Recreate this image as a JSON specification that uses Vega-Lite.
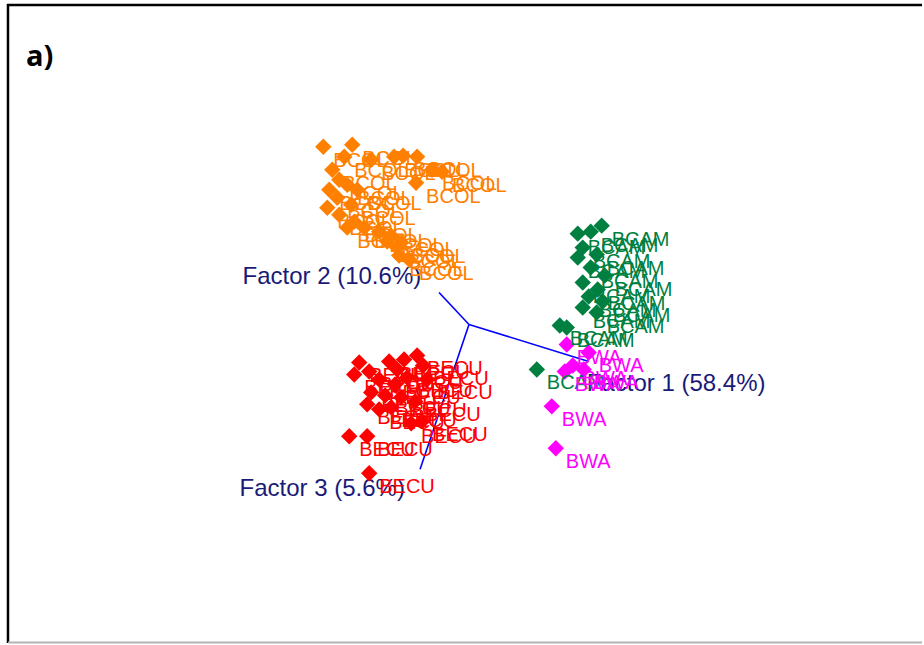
{
  "$schema": "https://vega.github.io/schema/vega-lite/v6.json",
  "width": 924,
  "height": 645,
  "autosize": {"type": "fit", "contains": "padding"},
  "padding": 0,
  "background": "white",
  "config": {"view": {"stroke": null}},
  "datasets": {
    "pts": [
      {"group": "BCOL", "x": 324, "y": 147}, {"group": "BCOL", "x": 353, "y": 145}, {"group": "BCOL", "x": 345, "y": 157},
      {"group": "BCOL", "x": 372, "y": 160}, {"group": "BCOL", "x": 395, "y": 157}, {"group": "BCOL", "x": 404, "y": 156},
      {"group": "BCOL", "x": 418, "y": 157}, {"group": "BCOL", "x": 433, "y": 170}, {"group": "BCOL", "x": 443, "y": 172},
      {"group": "BCOL", "x": 417, "y": 183}, {"group": "BCOL", "x": 333, "y": 170}, {"group": "BCOL", "x": 340, "y": 180},
      {"group": "BCOL", "x": 330, "y": 190}, {"group": "BCOL", "x": 348, "y": 185}, {"group": "BCOL", "x": 358, "y": 190},
      {"group": "BCOL", "x": 338, "y": 198}, {"group": "BCOL", "x": 352, "y": 205}, {"group": "BCOL", "x": 328, "y": 208},
      {"group": "BCOL", "x": 340, "y": 215}, {"group": "BCOL", "x": 355, "y": 222}, {"group": "BCOL", "x": 365, "y": 228},
      {"group": "BCOL", "x": 348, "y": 228}, {"group": "BCOL", "x": 380, "y": 232}, {"group": "BCOL", "x": 388, "y": 242},
      {"group": "BCOL", "x": 398, "y": 248}, {"group": "BCOL", "x": 400, "y": 256}, {"group": "BCOL", "x": 410, "y": 260},
      {"group": "BCOL", "x": 392, "y": 236}, {"group": "BCOL", "x": 402, "y": 243},
      {"group": "BCAM", "x": 579, "y": 234}, {"group": "BCAM", "x": 592, "y": 232}, {"group": "BCAM", "x": 603, "y": 226},
      {"group": "BCAM", "x": 584, "y": 248}, {"group": "BCAM", "x": 598, "y": 255}, {"group": "BCAM", "x": 579, "y": 258},
      {"group": "BCAM", "x": 592, "y": 268}, {"group": "BCAM", "x": 606, "y": 276}, {"group": "BCAM", "x": 584, "y": 283},
      {"group": "BCAM", "x": 599, "y": 290}, {"group": "BCAM", "x": 590, "y": 297}, {"group": "BCAM", "x": 604, "y": 302},
      {"group": "BCAM", "x": 584, "y": 308}, {"group": "BCAM", "x": 598, "y": 313}, {"group": "BCAM", "x": 561, "y": 326},
      {"group": "BCAM", "x": 568, "y": 328}, {"group": "BCAM", "x": 538, "y": 370},
      {"group": "BWA", "x": 568, "y": 345}, {"group": "BWA", "x": 590, "y": 353}, {"group": "BWA", "x": 574, "y": 366},
      {"group": "BWA", "x": 585, "y": 370}, {"group": "BWA", "x": 566, "y": 372}, {"group": "BWA", "x": 553, "y": 407},
      {"group": "BWA", "x": 557, "y": 449},
      {"group": "BECU", "x": 360, "y": 363}, {"group": "BECU", "x": 355, "y": 375}, {"group": "BECU", "x": 370, "y": 372},
      {"group": "BECU", "x": 380, "y": 380}, {"group": "BECU", "x": 390, "y": 362}, {"group": "BECU", "x": 398, "y": 370},
      {"group": "BECU", "x": 405, "y": 360}, {"group": "BECU", "x": 418, "y": 356}, {"group": "BECU", "x": 408, "y": 378},
      {"group": "BECU", "x": 396, "y": 385}, {"group": "BECU", "x": 372, "y": 393}, {"group": "BECU", "x": 368, "y": 405},
      {"group": "BECU", "x": 380, "y": 410}, {"group": "BECU", "x": 392, "y": 408}, {"group": "BECU", "x": 423, "y": 422},
      {"group": "BECU", "x": 412, "y": 424}, {"group": "BECU", "x": 350, "y": 437}, {"group": "BECU", "x": 368, "y": 437},
      {"group": "BECU", "x": 370, "y": 474}, {"group": "BECU", "x": 424, "y": 366}, {"group": "BECU", "x": 428, "y": 380},
      {"group": "BECU", "x": 386, "y": 396}, {"group": "BECU", "x": 402, "y": 398}, {"group": "BECU", "x": 416, "y": 402}
    ],
    "axes": [
      {"name": "Factor 1 (58.4%)", "x": 470, "y": 325, "x2": 590, "y2": 362, "lx": 588, "ly": 392},
      {"name": "Factor 2 (10.6%)", "x": 470, "y": 325, "x2": 440, "y2": 293, "lx": 243, "ly": 284},
      {"name": "Factor 3 (5.6%)", "x": 470, "y": 325, "x2": 421, "y2": 470, "lx": 240, "ly": 497}
    ],
    "frame": [
      {"side": "top", "x": 7, "y": 5, "x2": 924, "y2": 5},
      {"side": "left", "x": 8, "y": 4, "x2": 8, "y2": 644}
    ],
    "frame2": [
      {"side": "bottom", "x": 8, "y": 643.5, "x2": 924, "y2": 643.5}
    ],
    "tag": [{"t": "a)", "x": 26, "y": 66}]
  },
  "layer": [
    {
      "data": {"name": "frame"},
      "mark": {"type": "rule", "color": "#000000", "strokeWidth": 2.5},
      "encoding": {
        "x": {"field": "x", "type": "quantitative", "scale": {"domain": [0, 924], "nice": false, "zero": false}, "axis": null},
        "y": {"field": "y", "type": "quantitative", "scale": {"domain": [0, 645], "nice": false, "zero": false, "reverse": true}, "axis": null},
        "x2": {"field": "x2"},
        "y2": {"field": "y2"}
      }
    },
    {
      "data": {"name": "frame2"},
      "mark": {"type": "rule", "color": "#b4b4b4", "strokeWidth": 2},
      "encoding": {
        "x": {"field": "x", "type": "quantitative"},
        "y": {"field": "y", "type": "quantitative"},
        "x2": {"field": "x2"},
        "y2": {"field": "y2"}
      }
    },
    {
      "data": {"name": "tag"},
      "mark": {"type": "text", "font": "Open Sans", "fontWeight": "bold", "fontSize": 29, "align": "left", "baseline": "alphabetic", "color": "#000000"},
      "encoding": {
        "x": {"field": "x", "type": "quantitative"},
        "y": {"field": "y", "type": "quantitative"},
        "text": {"field": "t"}
      }
    },
    {
      "data": {"name": "axes"},
      "mark": {"type": "rule", "color": "#0000ff", "strokeWidth": 1.6},
      "encoding": {
        "x": {"field": "x", "type": "quantitative"},
        "y": {"field": "y", "type": "quantitative"},
        "x2": {"field": "x2"},
        "y2": {"field": "y2"}
      }
    },
    {
      "data": {"name": "axes"},
      "mark": {"type": "text", "font": "Liberation Sans", "fontSize": 24, "align": "left", "baseline": "alphabetic", "color": "#1a1a78"},
      "encoding": {
        "x": {"field": "lx", "type": "quantitative"},
        "y": {"field": "ly", "type": "quantitative"},
        "text": {"field": "name"}
      }
    },
    {
      "data": {"name": "pts"},
      "mark": {"type": "point", "shape": "diamond", "filled": true, "size": 270, "opacity": 1},
      "encoding": {
        "x": {"field": "x", "type": "quantitative"},
        "y": {"field": "y", "type": "quantitative"},
        "color": {"field": "group", "type": "nominal", "scale": {"domain": ["BCOL", "BCAM", "BECU", "BWA"], "range": ["#ff8000", "#008040", "#ff0000", "#ff00ff"]}, "legend": null}
      }
    },
    {
      "data": {"name": "pts"},
      "mark": {"type": "text", "font": "Liberation Sans", "fontSize": 20, "align": "left", "baseline": "alphabetic", "dx": 10, "dy": 20},
      "encoding": {
        "x": {"field": "x", "type": "quantitative"},
        "y": {"field": "y", "type": "quantitative"},
        "text": {"field": "group"},
        "color": {"field": "group", "type": "nominal", "legend": null}
      }
    }
  ]
}
